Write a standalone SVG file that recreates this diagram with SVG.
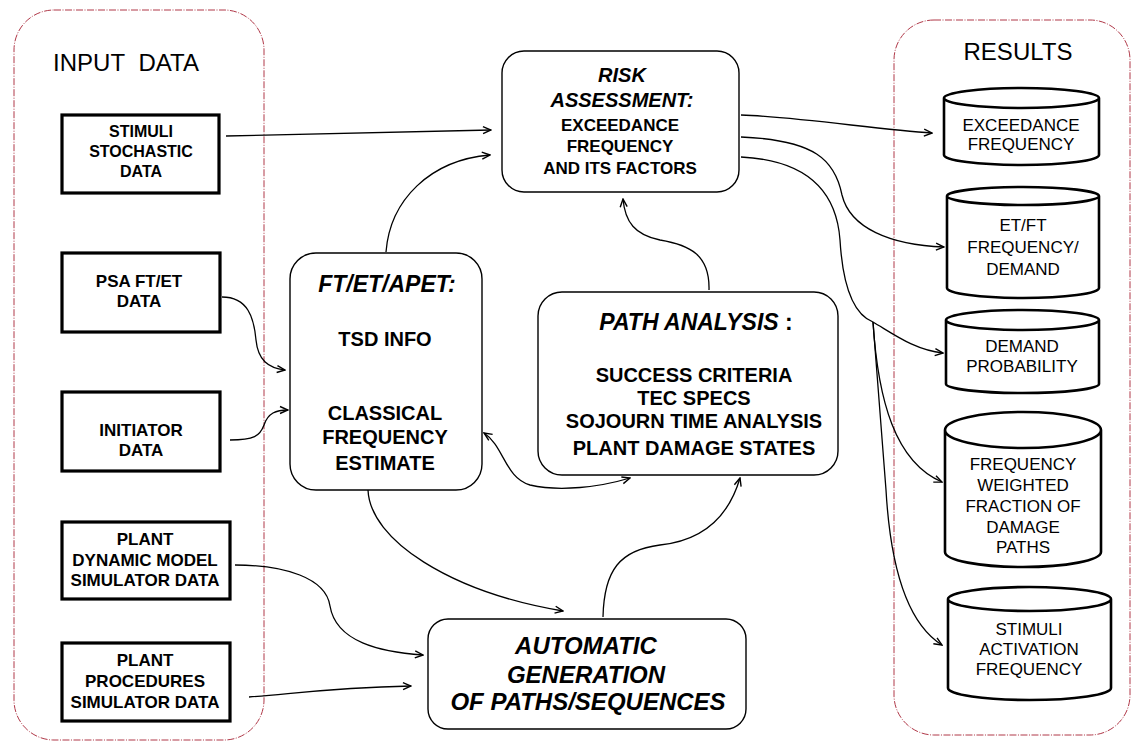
<svg xmlns="http://www.w3.org/2000/svg" width="1131" height="742" viewBox="0 0 1131 742">
<defs>
<style>
.cont{fill:none;stroke:#b03848;stroke-width:1;stroke-dasharray:7,1.5,1,1.5}
.ibox{fill:#fff;stroke:#000;stroke-width:3.2}
.rbox{fill:#fff;stroke:#000;stroke-width:1.4}
.cyl{fill:#fff;stroke:#000;stroke-width:2.6}
.con{fill:none;stroke:#000;stroke-width:1.3}
text{font-family:"Liberation Sans",Arial,sans-serif;fill:#000;text-anchor:middle}
.hd{font-size:24px}
.ib{font-size:17px;font-weight:bold}
.bi{font-weight:bold;font-style:italic}
.bb{font-weight:bold}
.cy{font-size:17px}
</style>
<marker id="arr" markerWidth="10" markerHeight="10" refX="9" refY="5" orient="auto-start-reverse" markerUnits="userSpaceOnUse">
<path d="M1,1.5 L9,5 L1,8.5" fill="none" stroke="#000" stroke-width="1.4"/>
</marker>
</defs>
<rect fill="#fff" x="0" y="0" width="1131" height="742"/>

<g id="input-container">
<rect class="cont" x="14" y="10" width="250" height="730" rx="40"/>
<text class="hd" x="126" y="71">INPUT&#160; DATA</text>
</g>
<g id="results-container">
<rect class="cont" x="894" y="20" width="236" height="715" rx="40"/>
<text class="hd" x="1018" y="60">RESULTS</text>
</g>

<g id="stimuli-data">
<rect class="ibox" x="62" y="115" width="157" height="78"/>
<text class="ib" x="141" y="137" style="font-size:16px">STIMULI</text>
<text class="ib" x="141" y="157" style="font-size:16px">STOCHASTIC</text>
<text class="ib" x="141" y="177" style="font-size:16px">DATA</text>
</g>
<g id="psa-data">
<rect class="ibox" x="62" y="253" width="158" height="79"/>
<text class="ib" x="139" y="287">PSA FT/ET</text>
<text class="ib" x="139" y="307">DATA</text>
</g>
<g id="initiator-data">
<rect class="ibox" x="62" y="392" width="158" height="79"/>
<text class="ib" x="141" y="436">INITIATOR</text>
<text class="ib" x="141" y="456">DATA</text>
</g>
<g id="plant-dynamic">
<rect class="ibox" x="62" y="522" width="168" height="77"/>
<text class="ib" x="145" y="545">PLANT</text>
<text class="ib" x="145" y="566">DYNAMIC MODEL</text>
<text class="ib" x="145" y="586">SIMULATOR DATA</text>
</g>
<g id="plant-procedures">
<rect class="ibox" x="62" y="643" width="168" height="78"/>
<text class="ib" x="145" y="666">PLANT</text>
<text class="ib" x="145" y="687">PROCEDURES</text>
<text class="ib" x="145" y="708">SIMULATOR DATA</text>
</g>

<g id="risk-assessment">
<rect class="rbox" x="502" y="51" width="237" height="141" rx="22"/>
<text class="bi" x="622" y="82" style="font-size:20px">RISK</text>
<text class="bi" x="622" y="107" style="font-size:20px">ASSESSMENT:</text>
<text class="bb" x="620" y="131" style="font-size:17px">EXCEEDANCE</text>
<text class="bb" x="620" y="152" style="font-size:17px">FREQUENCY</text>
<text class="bb" x="620" y="174" style="font-size:17px">AND ITS FACTORS</text>
</g>

<g id="ft-et-apet">
<rect class="rbox" x="290" y="253" width="192" height="237" rx="26"/>
<text class="bi" x="387" y="292" style="font-size:23px">FT/ET/APET:</text>
<text class="bb" x="385" y="346" style="font-size:20px">TSD INFO</text>
<text class="bb" x="385" y="420" style="font-size:20px">CLASSICAL</text>
<text class="bb" x="385" y="444" style="font-size:20px">FREQUENCY</text>
<text class="bb" x="385" y="470" style="font-size:20px">ESTIMATE</text>
</g>

<g id="path-analysis">
<rect class="rbox" x="538" y="292" width="300" height="183" rx="24"/>
<text class="bi" x="696" y="330" style="font-size:23px">PATH ANALYSIS<tspan font-style="normal"> :</tspan></text>
<text class="bb" x="694" y="382" style="font-size:20px">SUCCESS CRITERIA</text>
<text class="bb" x="694" y="405" style="font-size:20px">TEC SPECS</text>
<text class="bb" x="694" y="428" style="font-size:20px">SOJOURN TIME ANALYSIS</text>
<text class="bb" x="694" y="455" style="font-size:20px">PLANT DAMAGE STATES</text>
</g>

<g id="automatic-generation">
<rect class="rbox" x="428" y="619" width="318" height="110" rx="20"/>
<text class="bi" x="586" y="654" style="font-size:24px">AUTOMATIC</text>
<text class="bi" x="586" y="683" style="font-size:24px">GENERATION</text>
<text class="bi" x="588" y="710" style="font-size:24px">OF PATHS/SEQUENCES</text>
</g>

<g id="res-exceedance">
<path class="cyl" d="M944,98 A77.5,10 0 0 1 1099,98 L1099,155 A77.5,10 0 0 1 944,155 Z M944,98 A77.5,10 0 0 0 1099,98"/>
<text class="cy" x="1021" y="131">EXCEEDANCE</text>
<text class="cy" x="1021" y="150">FREQUENCY</text>
</g>
<g id="res-etft">
<path class="cyl" d="M947,196 A76,9 0 0 1 1099,196 L1099,288 A76,10 0 0 1 947,288 Z M947,196 A76,9 0 0 0 1099,196"/>
<text class="cy" x="1023" y="231">ET/FT</text>
<text class="cy" x="1023" y="253">FREQUENCY/</text>
<text class="cy" x="1023" y="275">DEMAND</text>
</g>
<g id="res-demand">
<path class="cyl" d="M946,320 A76.5,10 0 0 1 1099,320 L1099,384 A76.5,9 0 0 1 946,384 Z M946,320 A76.5,10 0 0 0 1099,320"/>
<text class="cy" x="1022" y="352">DEMAND</text>
<text class="cy" x="1022" y="372">PROBABILITY</text>
</g>
<g id="res-weighted">
<path class="cyl" d="M945,430 A78,18 0 0 1 1101,430 L1101,552 A78,15 0 0 1 945,552 Z M945,430 A78,18 0 0 0 1101,430"/>
<text class="cy" x="1023" y="470">FREQUENCY</text>
<text class="cy" x="1023" y="491">WEIGHTED</text>
<text class="cy" x="1023" y="512">FRACTION OF</text>
<text class="cy" x="1023" y="533">DAMAGE</text>
<text class="cy" x="1023" y="553">PATHS</text>
</g>
<g id="res-stimuli">
<path class="cyl" d="M948,599 A81.5,12 0 0 1 1111,599 L1111,688 A81.5,12 0 0 1 948,688 Z M948,599 A81.5,12 0 0 0 1111,599"/>
<text class="cy" x="1029" y="635">STIMULI</text>
<text class="cy" x="1029" y="655">ACTIVATION</text>
<text class="cy" x="1029" y="675">FREQUENCY</text>
</g>

<g id="connectors">
<path class="con" marker-end="url(#arr)" d="M226,136 L491,130"/>
<path class="con" marker-end="url(#arr)" d="M386,252 C390,200 430,160 490,155"/>
<path class="con" marker-end="url(#arr)" d="M222,297 C248,297 254,318 256,340 C258,360 268,368 285,370"/>
<path class="con" marker-end="url(#arr)" d="M230,440 C254,440 260,436 264,425 C268,413 276,410 288,410"/>
<path class="con" marker-end="url(#arr)" d="M235,565 C285,565 326,578 330,606 C336,642 380,652 423,655"/>
<path class="con" marker-end="url(#arr)" d="M249,697 C300,693 330,688 411,686"/>
<path class="con" marker-end="url(#arr)" d="M368,490 C370,540 450,592 563,611"/>
<path class="con" marker-end="url(#arr)" d="M603,617 C604,570 620,550 660,545 C708,540 730,512 740,478"/>
<path class="con" marker-start="url(#arr)" marker-end="url(#arr)" d="M484,433 C504,446 505,478 530,485 C560,492 600,487 630,478"/>
<path class="con" marker-end="url(#arr)" d="M709,290 C710,255 690,245 660,240 C635,235 625,222 623,199"/>
<path class="con" marker-end="url(#arr)" d="M741,115 C800,117 880,130 932,133"/>
<path class="con" marker-end="url(#arr)" d="M741,137 C815,140 835,160 842,195 C850,228 890,245 944,247"/>
<path class="con" marker-end="url(#arr)" d="M741,157 C800,160 836,185 840,240 C843,290 855,315 873,322 C895,335 915,350 943,353"/>
<path class="con" marker-end="url(#arr)" d="M873,322 L886,490 C890,560 905,622 942,645"/>
<path class="con" marker-end="url(#arr)" d="M873,322 C878,400 895,462 942,482"/>
</g>
</svg>
